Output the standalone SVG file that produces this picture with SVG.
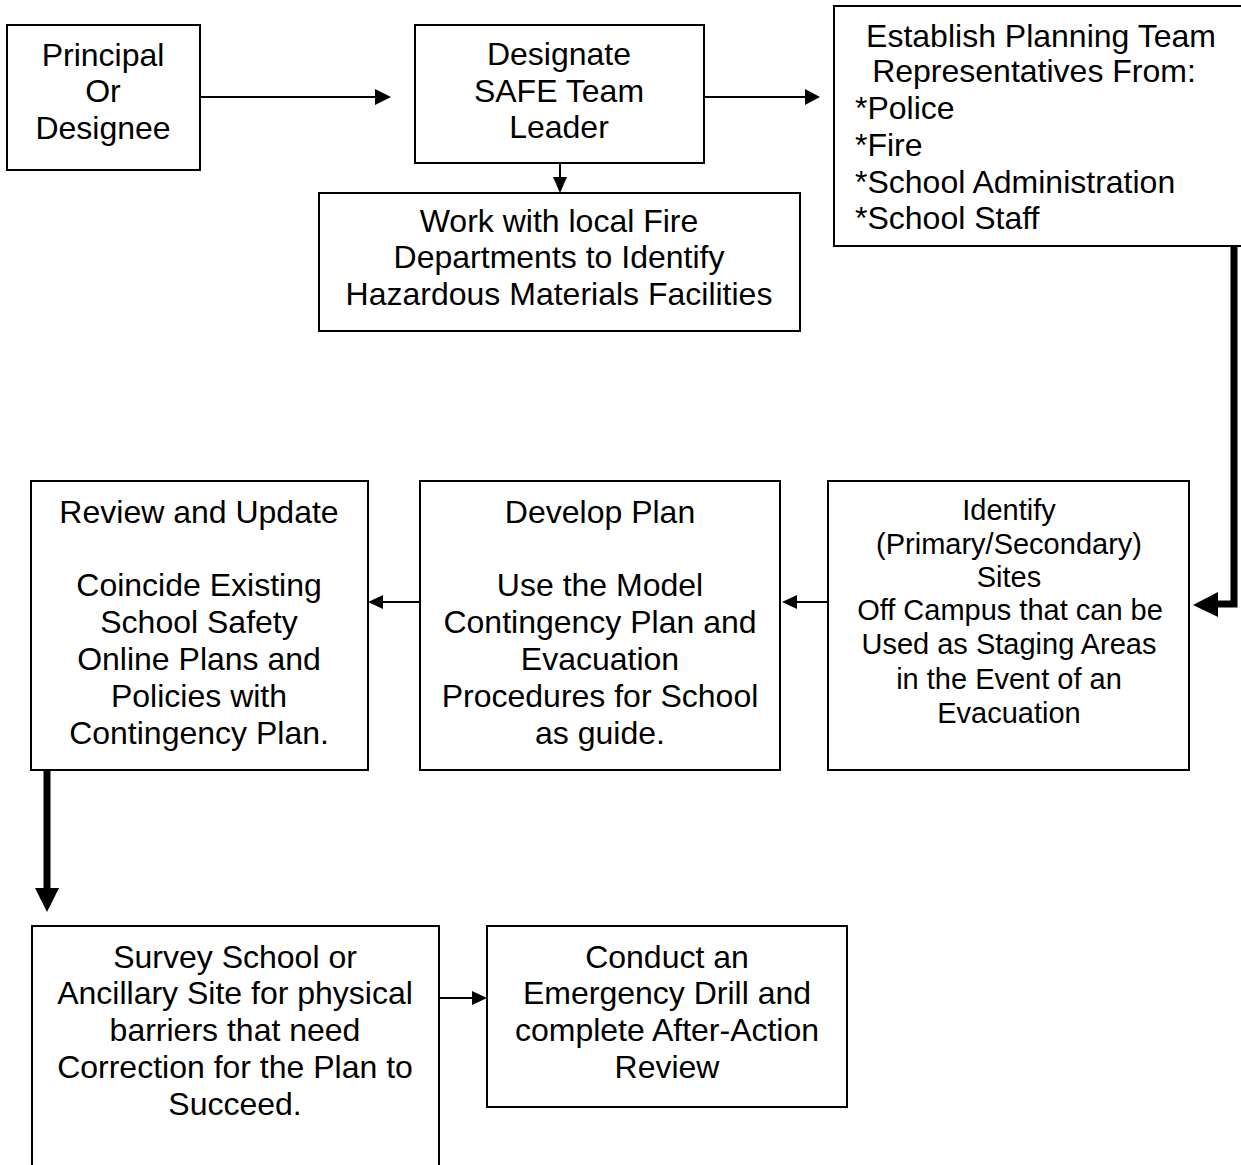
<svg xmlns="http://www.w3.org/2000/svg" width="1241" height="1165" viewBox="0 0 1241 1165">
  <style>
    .box { fill: #ffffff; stroke: #000000; stroke-width: 2; }
    .t { font-family: "Liberation Sans", Arial, sans-serif; font-size: 32px; fill: #000000; text-anchor: middle; }
    .s { font-size: 29px; }
    .l { text-anchor: start; }
    .thin { stroke: #000000; stroke-width: 2; fill: none; }
    .thick { stroke: #000000; stroke-width: 7; fill: none; }
    .head { fill: #000000; }
  </style>
  <rect width="1241" height="1165" fill="#ffffff"/>

  <g id="connectors">
    <!-- Principal -> Designate -->
    <line class="thin" x1="200" y1="97" x2="376" y2="97"/>
    <polygon class="head" points="391,97 375,89 375,105"/>
    <!-- Designate -> Establish -->
    <line class="thin" x1="704" y1="97" x2="806" y2="97"/>
    <polygon class="head" points="820,97 805,89 805,105"/>
    <!-- Designate -> Work with Fire Departments -->
    <line class="thin" x1="560" y1="163" x2="560" y2="178"/>
    <polygon class="head" points="560,193 553,177 567,177"/>
    <!-- Establish -> Identify (thick elbow) -->
    <polyline class="thick" points="1234,246 1234,604 1215,604"/>
    <polygon class="head" points="1193,605 1218,592 1218,617"/>
    <!-- Identify -> Develop -->
    <line class="thin" x1="828" y1="602" x2="796" y2="602"/>
    <polygon class="head" points="782,602 797,595 797,609"/>
    <!-- Develop -> Review -->
    <line class="thin" x1="420" y1="602" x2="382" y2="602"/>
    <polygon class="head" points="368,602 383,595 383,609"/>
    <!-- Review -> Survey (thick) -->
    <line class="thick" x1="47" y1="768" x2="47" y2="890"/>
    <polygon class="head" points="47,912 35,888 59,888"/>
    <!-- Survey -> Conduct -->
    <line class="thin" x1="439" y1="998" x2="473" y2="998"/>
    <polygon class="head" points="487,998 472,991 472,1005"/>
  </g>

  <g id="principal">
    <rect class="box" x="7" y="25" width="193" height="145"/>
    <text class="t" x="103" y="66">Principal</text>
    <text class="t" x="103" y="102">Or</text>
    <text class="t" x="103" y="139">Designee</text>
  </g>

  <g id="designate">
    <rect class="box" x="415" y="25" width="289" height="138"/>
    <text class="t" x="559" y="65">Designate</text>
    <text class="t" x="559" y="102">SAFE Team</text>
    <text class="t" x="559" y="138">Leader</text>
  </g>

  <g id="fire-departments">
    <rect class="box" x="319" y="193" width="481" height="138"/>
    <text class="t" x="559" y="232">Work with local Fire</text>
    <text class="t" x="559" y="268">Departments to Identify</text>
    <text class="t" x="559" y="305">Hazardous Materials Facilities</text>
  </g>

  <g id="planning-team">
    <rect class="box" x="834" y="6" width="412" height="240"/>
    <text class="t" x="1041" y="47">Establish Planning Team</text>
    <text class="t" x="1034" y="82">Representatives From:</text>
    <text class="t l" x="855" y="119">*Police</text>
    <text class="t l" x="855" y="156">*Fire</text>
    <text class="t l" x="855" y="193">*School Administration</text>
    <text class="t l" x="855" y="229">*School Staff</text>
  </g>

  <g id="identify-sites">
    <rect class="box" x="828" y="481" width="361" height="289"/>
    <text class="t s" x="1009" y="520">Identify</text>
    <text class="t s" x="1009" y="554">(Primary/Secondary)</text>
    <text class="t s" x="1009" y="587">Sites</text>
    <text class="t s" x="1010" y="620">Off Campus that can be</text>
    <text class="t s" x="1009" y="654">Used as Staging Areas</text>
    <text class="t s" x="1009" y="689">in the Event of an</text>
    <text class="t s" x="1009" y="723">Evacuation</text>
  </g>

  <g id="develop-plan">
    <rect class="box" x="420" y="481" width="360" height="289"/>
    <text class="t" x="600" y="523">Develop Plan</text>
    <text class="t" x="600" y="596">Use the Model</text>
    <text class="t" x="600" y="633">Contingency Plan and</text>
    <text class="t" x="600" y="670">Evacuation</text>
    <text class="t" x="600" y="707">Procedures for School</text>
    <text class="t" x="600" y="744">as guide.</text>
  </g>

  <g id="review-update">
    <rect class="box" x="31" y="481" width="337" height="289"/>
    <text class="t" x="199" y="523">Review and Update</text>
    <text class="t" x="199" y="596">Coincide Existing</text>
    <text class="t" x="199" y="633">School Safety</text>
    <text class="t" x="199" y="670">Online Plans and</text>
    <text class="t" x="199" y="707">Policies with</text>
    <text class="t" x="199" y="744">Contingency Plan.</text>
  </g>

  <g id="survey-site">
    <rect class="box" x="32" y="926" width="407" height="250"/>
    <text class="t" x="235" y="968">Survey School or</text>
    <text class="t" x="235" y="1004">Ancillary Site for physical</text>
    <text class="t" x="235" y="1041">barriers that need</text>
    <text class="t" x="235" y="1078">Correction for the Plan to</text>
    <text class="t" x="235" y="1115">Succeed.</text>
  </g>

  <g id="emergency-drill">
    <rect class="box" x="487" y="926" width="360" height="181"/>
    <text class="t" x="667" y="968">Conduct an</text>
    <text class="t" x="667" y="1004">Emergency Drill and</text>
    <text class="t" x="667" y="1041">complete After-Action</text>
    <text class="t" x="667" y="1078">Review</text>
  </g>
</svg>
